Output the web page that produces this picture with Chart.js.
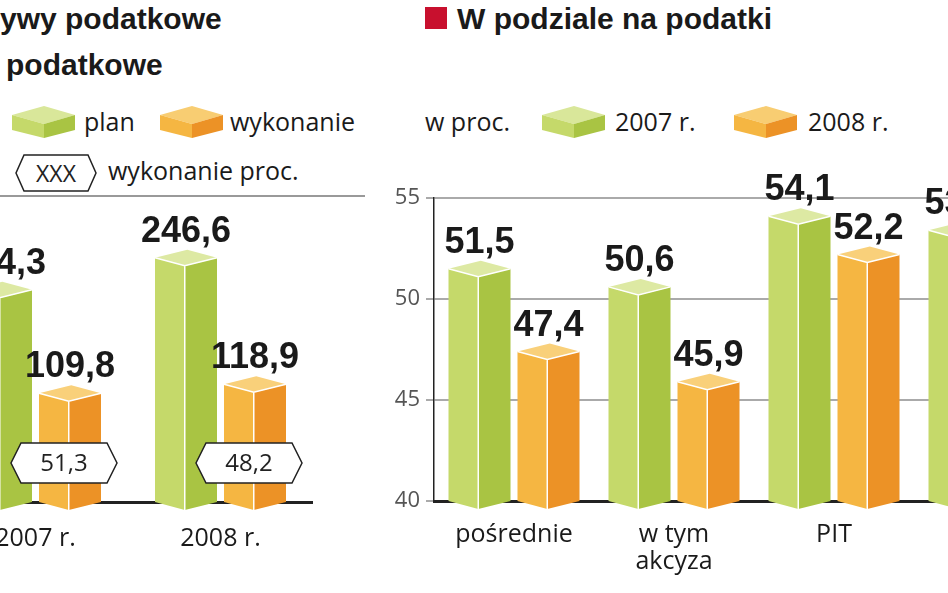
<!DOCTYPE html><html><head><meta charset="utf-8">
<script src="https://cdn.jsdelivr.net/npm/chart.js@4.4.0/dist/chart.umd.min.js"></script>
<style>
body{margin:0;width:948px;height:593px;overflow:hidden;background:#fff;position:relative;font-family:"Open Sans",sans-serif;color:#1a1a1a}
.t{position:absolute;font-weight:bold;font-size:30px;font-family:"Liberation Sans",sans-serif;white-space:nowrap}
.l{position:absolute;font-size:25px;white-space:nowrap}
canvas{position:absolute}
</style></head><body>
<div class="t" style="left:0;top:2px">ywy podatkowe</div>
<div class="t" style="left:6px;top:48px">podatkowe</div>
<div class="t" style="left:425px;top:2px"><span style="display:inline-block;width:22px;height:22px;background:#c8102e;margin-right:10px"></span>W podziale na podatki</div>
<svg width="948" height="200" style="position:absolute;left:0;top:0">
 <g><polygon points="12,115 44,106 75,115 44,124" fill="#d9e79a"/><polygon points="12,115 44,124 44,138 12,130" fill="#c5d96a"/><polygon points="44,124 75,115 75,130 44,138" fill="#a9c443"/></g>
 <g transform="translate(148,0)"><polygon points="12,115 44,106 75,115 44,124" fill="#f8cd72"/><polygon points="12,115 44,124 44,138 12,130" fill="#f5b642"/><polygon points="44,124 75,115 75,130 44,138" fill="#ec9226"/></g>
 <g transform="translate(530,0)"><polygon points="12,115 44,106 75,115 44,124" fill="#d9e79a"/><polygon points="12,115 44,124 44,138 12,130" fill="#c5d96a"/><polygon points="44,124 75,115 75,130 44,138" fill="#a9c443"/></g>
 <g transform="translate(722,0)"><polygon points="12,115 44,106 75,115 44,124" fill="#f8cd72"/><polygon points="12,115 44,124 44,138 12,130" fill="#f5b642"/><polygon points="44,124 75,115 75,130 44,138" fill="#ec9226"/></g>
 <polygon points="24,155 88,155 96,173 88,191 24,191 16,173" fill="#fff" stroke="#222" stroke-width="1.5"/>
 <text x="56" y="182" font-size="23" text-anchor="middle" font-family="Open Sans" fill="#222">XXX</text>
 <line x1="0" y1="196" x2="365" y2="196" stroke="#999" stroke-width="2"/>
</svg>
<div class="l" style="left:84px;top:104px">plan</div>
<div class="l" style="left:230px;top:104px">wykonanie</div>
<div class="l" style="left:108px;top:153px">wykonanie proc.</div>
<div class="l" style="left:425px;top:104px">w proc.</div>
<div class="l" style="left:615px;top:104px">2007 r.</div>
<div class="l" style="left:808px;top:104px">2008 r.</div>
<canvas id="c1" style="left:-57px;top:100px" width="370" height="493"></canvas>
<canvas id="c2" style="left:374px;top:150px" width="700" height="443"></canvas>
<script>
const yearsL=["2007 r.","2008 r."];
const planL=[214.3,246.6];
const wykL=[109.8,118.9];
const pctL=[51.3,48.2];
const catsR=[["pośrednie"],["w tym","akcyza"],["PIT"],["CIT"]];
const r2007=[51.5,50.6,54.1,53.4];
const r2008=[47.4,45.9,52.2,50.0];
const ticksR=[40,45,50,55];
const G={l:"#c5d96a",d:"#a9c443",t:"#dde9a3"},O={l:"#f5b642",d:"#ec9226",t:"#f9d07a"};
const fmt=v=>v.toFixed(1).replace('.',',');
function bar3d(ctx,x,y,b,w,c){
 const x0=x-w/2,x1=x+w/2,s=x0+w*0.48,d=8;
 ctx.fillStyle=c.l;ctx.beginPath();ctx.moveTo(x0,y);ctx.lineTo(s,y+d);ctx.lineTo(s,b+d);ctx.lineTo(x0,b);ctx.fill();
 ctx.fillStyle=c.d;ctx.beginPath();ctx.moveTo(s,y+d);ctx.lineTo(x1,y);ctx.lineTo(x1,b);ctx.lineTo(s,b+d);ctx.fill();
 ctx.fillStyle=c.t;ctx.beginPath();ctx.moveTo(x0,y);ctx.lineTo(s+w*0.04,y-d);ctx.lineTo(x1,y);ctx.lineTo(s,y+d);ctx.fill();
 ctx.strokeStyle="#fff";ctx.lineWidth=1.5;ctx.beginPath();ctx.moveTo(x0,y);ctx.lineTo(s,y+d);ctx.lineTo(x1,y);ctx.moveTo(s,y+d);ctx.lineTo(s,b+d);ctx.stroke();
}
const bars={id:'bars3d',afterDatasetsDraw(ch,a,opt){
 const ctx=ch.ctx;ctx.save();const bot=ch.chartArea.bottom;
 ch.data.datasets.forEach((ds,i)=>{ch.getDatasetMeta(i).data.forEach((el,j)=>{
  bar3d(ctx,el.x,el.y,Math.min(el.base,bot),62,i?O:G);
  ctx.fillStyle="#1a1a1a";ctx.font="bold 36px 'Liberation Sans'";ctx.textAlign="center";ctx.textBaseline="alphabetic";
  ctx.fillText(fmt(ds.data[j]),el.x,el.y-16);
 });});
 if(opt.pct){const m=ch.getDatasetMeta(1);m.data.forEach((el,j)=>{
  const cx=el.x-6,cy=363,hw=53,hh=20;
  ctx.fillStyle="#fff";ctx.strokeStyle="#222";ctx.lineWidth=1.5;ctx.beginPath();
  ctx.moveTo(cx-hw+10,cy-hh);ctx.lineTo(cx+hw-10,cy-hh);ctx.lineTo(cx+hw,cy);ctx.lineTo(cx+hw-10,cy+hh);ctx.lineTo(cx-hw+10,cy+hh);ctx.lineTo(cx-hw,cy);ctx.closePath();ctx.fill();ctx.stroke();
  ctx.fillStyle="#222";ctx.font="24px 'Open Sans'";ctx.textBaseline="middle";ctx.fillText(fmt(opt.pct[j]),cx,cy+1);
 });}
 ctx.restore();
}};
const base={responsive:false,animation:false,plugins:{legend:{display:false},tooltip:{enabled:false}}};
new Chart(document.getElementById('c1'),{type:'bar',plugins:[bars],
 data:{labels:yearsL,datasets:[{data:planL,backgroundColor:'rgba(0,0,0,0)'},{data:wykL,backgroundColor:'rgba(0,0,0,0)'}]},
 options:{...base,layout:{padding:{top:0,left:0,right:0,bottom:0}},
  plugins:{...base.plugins,bars3d:{pct:pctL}},
  datasets:{bar:{barThickness:69}},
  scales:{x:{grid:{display:false},border:{display:true,color:'#222',width:3},ticks:{color:'#1a1a1a',font:{size:25,family:'Open Sans'},padding:14},afterFit(s){s.height=91}},
   y:{display:false,min:0,max:406}}}});
new Chart(document.getElementById('c2'),{type:'bar',plugins:[bars],
 data:{labels:catsR,datasets:[{data:r2007,backgroundColor:'rgba(0,0,0,0)'},{data:r2008,backgroundColor:'rgba(0,0,0,0)'}]},
 options:{...base,layout:{padding:{top:48,left:0,right:0,bottom:0}},
  datasets:{bar:{barThickness:69}},
  scales:{x:{grid:{display:false},border:{display:true,color:'#222',width:3},ticks:{color:'#1a1a1a',font:{size:25,family:'Open Sans',lineHeight:1.1},padding:12},afterFit(s){s.height=92}},
   y:{min:40,max:55,afterBuildTicks(s){s.ticks=ticksR.map(v=>({value:v}))},afterFit(s){s.width=60},
    grid:{color:'#aaa',lineWidth:2,drawTicks:true,tickLength:8},border:{display:true,color:'#222',width:1.5},
    ticks:{color:'#555',font:{size:22,family:'Open Sans'},padding:6}}}}});
</script></body></html>
